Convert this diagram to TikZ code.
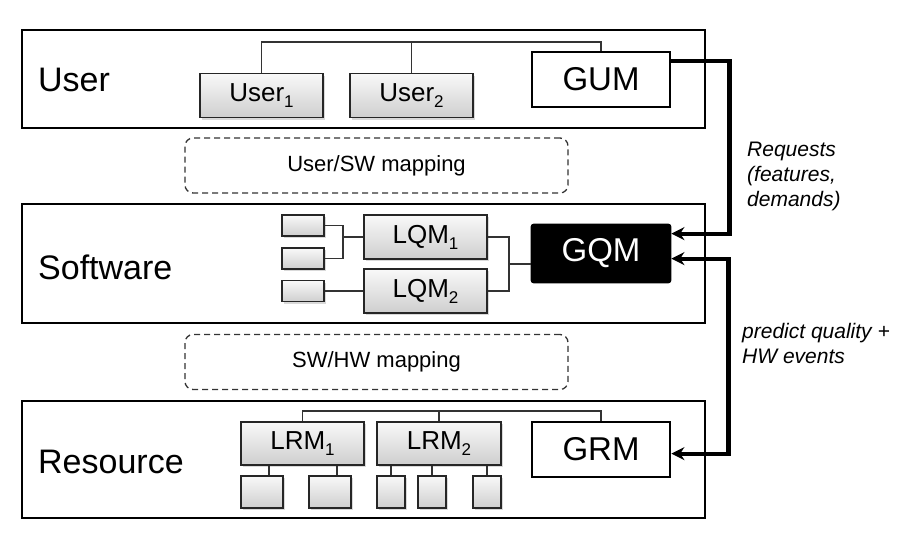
\documentclass[tikz,border=0pt]{standalone}
\usepackage{fontspec}
\setmainfont{Liberation Sans}
\usetikzlibrary{shadows,arrows.meta}
\newcommand\idx[1]{\raisebox{-6pt}{\fontsize{17}{17}\selectfont#1}}
\tikzset{
	layer/.style={draw,line width=2.8pt,minimum width=683pt,inner sep=0pt},
	lname/.style={anchor=west,inner sep=0pt,font=\fontsize{34}{40}\selectfont},
	unit/.style={draw=black!85,line width=1.3pt,top color=gray!5,bottom color=gray!38,
		drop shadow={opacity=0.3,shadow xshift=1.5pt,shadow yshift=-2pt},
		inner sep=0pt,font=\fontsize{26}{30}\selectfont},
	global/.style={draw,line width=2.8pt,fill=white,inner sep=0pt,minimum width=138pt,
		font=\fontsize{33}{38}\selectfont},
	mapbox/.style={draw=black!80,dash pattern=on 6pt off 4pt,line width=1.3pt,rounded corners=8pt,
		minimum width=383pt,minimum height=55pt,font=\fontsize{22}{26}\selectfont},
	wire/.style={line width=1.2pt,draw=black!80},
	link/.style={line width=4.2pt},
	note/.style={anchor=north west,align=left,inner sep=0pt,font=\fontsize{21}{25}\selectfont\itshape}
}
\begin{document}
\begin{tikzpicture}[>={Stealth[length=13pt,width=13pt]},x=1pt,y=-1pt]
	\useasboundingbox (0,0) rectangle (909,538);
	% layers
	\node[layer,minimum height=98pt] (user) at (363.5,79) {};
	\node[layer,minimum height=119pt] (sw) at (363.5,263.5) {};
	\node[layer,minimum height=117pt] (res) at (363.5,459.5) {};
	\node[lname] (userlbl) at (38,80) {User};
	\node[lname] (swlbl) at (38,267) {Software};
	\node[lname] (reslbl) at (38,462) {Resource};
	% user layer
	\node[unit,minimum width=123pt,minimum height=44pt] (U1) at (261.5,95.5) {User\idx{1}};
	\node[unit,minimum width=123pt,minimum height=44pt] (U2) at (411.5,95.5) {User\idx{2}};
	\node[global,minimum height=55pt] (GUM) at (601,79.5) {GUM};
	\coordinate (utop) at (0,42);
	\draw[wire] (U1.north) |- (utop -| GUM.north) -- (GUM.north);
	\draw[wire] (U2.north) -- (U2.north |- utop);
	% mappings
	\node[mapbox] (usmap) at (376.5,165.5) {User/SW mapping};
	\node[mapbox] (shmap) at (376.5,362) {SW/HW mapping};
	% software layer
	\node[unit,minimum width=42pt,minimum height=21pt] (q1) at (303,225.5) {};
	\node[unit,minimum width=42pt,minimum height=21pt] (q2) at (303,258.5) {};
	\node[unit,minimum width=42pt,minimum height=21pt] (q3) at (303,291) {};
	\node[unit,minimum width=123pt,minimum height=44pt] (L1) at (425.5,237) {LQM\idx{1}};
	\node[unit,minimum width=123pt,minimum height=44pt] (L2) at (425.5,291) {LQM\idx{2}};
	\node[global,fill=black,text=white,rounded corners=2pt,minimum height=57pt] (GQM) at (601,253.5) {GQM};
	\coordinate (qj) at (343,237);
	\coordinate (lj) at (509,264);
	\draw[wire] (q1.east) -- (q1.east -| qj) |- (q2.east);
	\draw[wire] (qj) -- (L1.west);
	\draw[wire] (q3.east) -- (L2.west);
	\draw[wire] (L1.east) -- (L1.east -| lj) |- (L2.east);
	\draw[wire] (lj) -- (lj -| GQM.west);
	% resource layer
	\node[unit,minimum width=123pt,minimum height=43pt] (R1) at (302.5,443.5) {LRM\idx{1}};
	\node[unit,minimum width=124pt,minimum height=43pt] (R2) at (439,443.5) {LRM\idx{2}};
	\node[global,minimum height=55pt] (GRM) at (601,449.5) {GRM};
	\node[unit,minimum width=42pt,minimum height=32pt] (r1) at (262,492) {};
	\node[unit,minimum width=42pt,minimum height=32pt] (r2) at (330,492) {};
	\node[unit,minimum width=28pt,minimum height=32pt] (r3) at (391,492) {};
	\node[unit,minimum width=28pt,minimum height=32pt] (r4) at (432,492) {};
	\node[unit,minimum width=28pt,minimum height=32pt] (r5) at (487,492) {};
	\coordinate (rtop) at (0,411);
	\draw[wire] (R1.north) |- (rtop -| GRM.north) -- (GRM.north);
	\draw[wire] (R2.north) -- (R2.north |- rtop);
	\draw[wire] ([xshift=7pt]r1.north) -- ([xshift=7pt]r1.north |- R1.south);
	\draw[wire] ([xshift=7pt]r2.north) -- ([xshift=7pt]r2.north |- R1.south);
	\foreach \r in {r3,r4,r5}
		\draw[wire] (\r.north) -- (\r.north |- R2.south);
	% global links
	\coordinate (req) at ([yshift=-10pt]GQM.north east);
	\coordinate (pred) at ([yshift=-35pt]GQM.north east);
	\draw[link,->] ([yshift=-10pt]GUM.north east) -- ++(58,0) |- (req);
	\draw[link,<->] (pred) -- ++(57,0) |- ([yshift=-33pt]GRM.north east);
	\node[note] (reqlbl) at (747,142) {Requests\\(features,\\demands)};
	\node[note] (predlbl) at (742,323) {predict quality +\\HW events};
\end{tikzpicture}
\end{document}
